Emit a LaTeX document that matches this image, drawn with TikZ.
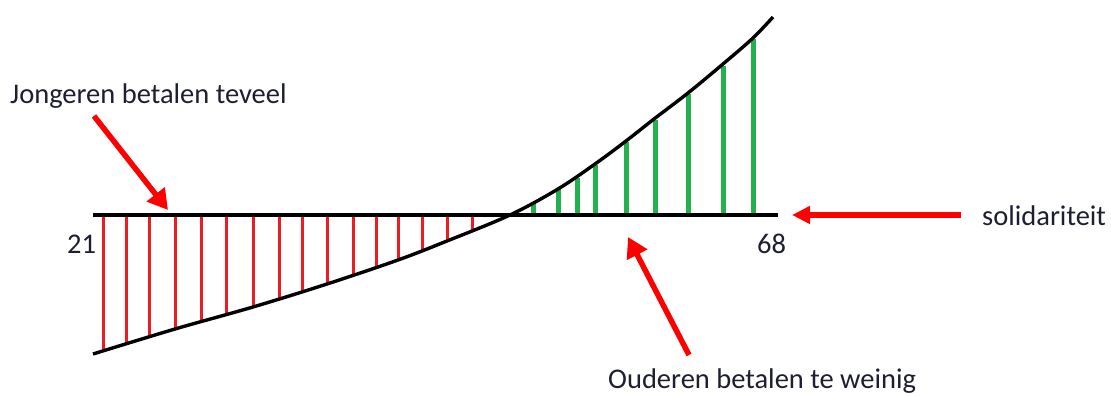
\documentclass[tikz,border=0pt]{standalone}
\usepackage{fontspec}
\setmainfont{Carlito}
\usetikzlibrary{arrows.meta}
\definecolor{barred}{RGB}{237,28,36}
\definecolor{bargreen}{RGB}{34,177,76}
\definecolor{arrowred}{RGB}{255,0,0}
\definecolor{txt}{RGB}{30,30,50}
\begin{document}
\begin{tikzpicture}[x=1pt,y=-1pt,
  lbl/.style={inner sep=0pt,anchor=base west,font=\fontsize{28.5}{34}\selectfont,text=txt},
  redbar/.style={draw=barred,line width=3pt},
  greenbar/.style={draw=bargreen,line width=5pt},
  axis/.style={draw=black,line width=3.8pt},
  curveline/.style={draw=black,line width=3.4pt},
  pointer/.style={draw=arrowred,line width=5.5pt,-{Triangle[length=20pt,width=22pt]}}]
\useasboundingbox (0,0) rectangle (1111,396);
% bars
\foreach \x/\y in {103/351,126/344,149/338,175/329,201/321,226/314,253/307,279/299,302/292,327/284,353/275,376/267,398/259,422/250,447/241,472/231}
  \draw[redbar] (\x,216) -- (\x,\y);
\foreach \x/\y in {533/203,558/189,577/178,595/165,626/142,655/120,688/94,723/66,753/39}
  \draw[greenbar] (\x,214) -- (\x,\y);
% axis and curve
\coordinate (axl) at (93,215);
\coordinate (axr) at (778,215);
\draw[axis] (axl) -- (axr);
\draw[curveline] plot[smooth,tension=0.55] coordinates {(93,354) (175,329) (253,307) (327,284) (398,260) (447,241) (510,215) (558,189) (595,164) (626,141) (654,119) (688,93) (723,64) (753,38) (773,17)};
% labels
\node[lbl] (j) at (10,103) {Jongeren betalen teveel};
\node[lbl] (s) at (982,225) {solidariteit};
\node[lbl] (o) at (608,388) {Ouderen betalen te weinig};
\node[lbl] (a) at (67,253) {21};
\node[lbl] (b) at (757,253) {68};
% arrows
\coordinate (jt) at (94,116);
\coordinate (jh) at (168,210);
\coordinate (st) at (961,215);
\coordinate (sh) at (792,215);
\coordinate (ot) at (689,355);
\coordinate (oh) at (628,237);
\draw[pointer] (jt) -- (jh);
\draw[pointer,-{Triangle[length=18pt,width=17pt]}] (st) -- (sh);
\draw[pointer] (ot) -- (oh);
\end{tikzpicture}
\end{document}
